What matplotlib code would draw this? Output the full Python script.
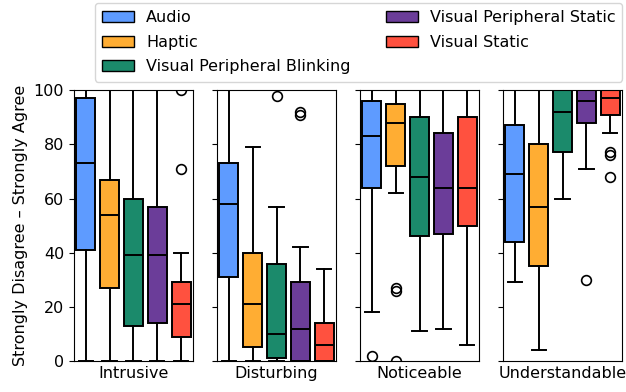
import matplotlib.pyplot as plt
from matplotlib.patches import Patch

# Likert-style agreement (0-100) per condition
questions = ["Intrusive", "Disturbing", "Noticeable", "Understandable"]
conditions = ["Audio", "Haptic", "Visual Peripheral Blinking",
              "Visual Peripheral Static", "Visual Static"]
colors = ["#5E9BFF", "#FFAD33", "#1B8A6B", "#6B3D99", "#FF513F"]

# [Audio, Haptic, VPB, VPS, VS] for each question
medians = [
    [73, 54, 39, 39, 21],
    [58, 21, 10, 12, 6],
    [83, 88, 68, 64, 64],
    [69, 57, 92, 96, 97],
]
q1 = [
    [41, 27, 13, 14, 9],
    [31, 5, 1, 0, 0],
    [64, 72, 46, 47, 50],
    [44, 35, 77, 88, 91],
]
q3 = [
    [97, 67, 60, 57, 29],
    [73, 40, 36, 29, 14],
    [96, 95, 90, 84, 90],
    [87, 80, 100, 100, 100],
]
whisk_lo = [
    [0, 0, 0, 0, 0],
    [0, 0, 0, 0, 0],
    [18, 62, 11, 12, 6],
    [29, 4, 60, 71, 84],
]
whisk_hi = [
    [100, 100, 100, 100, 40],
    [100, 79, 57, 42, 34],
    [100, 100, 100, 100, 100],
    [100, 100, 100, 100, 100],
]
outliers = [
    [[], [], [], [], [71, 100]],
    [[], [], [98], [91, 92], []],
    [[2], [26, 27, 0], [], [], []],
    [[], [], [], [30], [77, 76, 68]],
]

plt.rcParams["font.size"] = 11.5

fig, axes = plt.subplots(1, 4, figsize=(6.26, 3.92), dpi=100, sharey=True)
fig.subplots_adjust(left=0.118, right=0.994, top=0.770, bottom=0.079, wspace=0.2)

for i, ax in enumerate(axes):
    stats = []
    for j in range(len(conditions)):
        stats.append({
            "med": medians[i][j], "q1": q1[i][j], "q3": q3[i][j],
            "whislo": whisk_lo[i][j], "whishi": whisk_hi[i][j],
            "fliers": outliers[i][j],
        })
    bp = ax.bxp(stats, positions=range(len(conditions)), widths=0.8,
                capwidths=0.6, patch_artist=True, showfliers=True,
                boxprops=dict(linewidth=1.4, edgecolor="black"),
                medianprops=dict(color="black", linewidth=1.4),
                whiskerprops=dict(color="black", linewidth=1.4),
                capprops=dict(color="black", linewidth=1.4),
                flierprops=dict(marker="o", markerfacecolor="none",
                                markeredgecolor="black", markersize=7,
                                markeredgewidth=1.2))
    for box, c in zip(bp["boxes"], colors):
        box.set_facecolor(c)
    ax.set_xlim(-0.5, 4.5)
    ax.set_ylim(0, 100)
    ax.set_xticks([2])
    ax.set_xticklabels([questions[i]])
    ax.tick_params(axis="x", length=0)

axes[0].set_yticks([0, 20, 40, 60, 80, 100])
axes[0].set_ylabel("Strongly Disagree \u2013 Strongly Agree")

handles = [Patch(facecolor=c, edgecolor="black", label=n)
           for c, n in zip(colors, conditions)]
fig.legend(handles=handles, ncol=2, loc="upper left",
           bbox_to_anchor=(95 / 626, 1 - 3 / 392), borderaxespad=0,
           fontsize=11.5, borderpad=0.45, labelspacing=0.6,
           handletextpad=0.75, columnspacing=2.2)

plt.savefig("out.png")
